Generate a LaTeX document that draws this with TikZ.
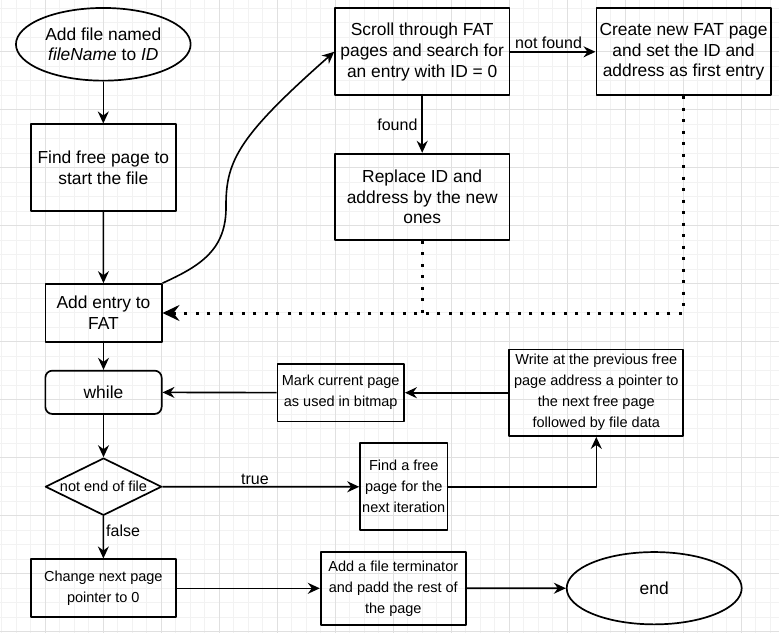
\documentclass[tikz,border=0pt]{standalone}
\usepackage{fontspec}
\setmainfont{Liberation Sans}
\usetikzlibrary{shapes.geometric,arrows.meta}

\begin{document}
\begin{tikzpicture}[x=1pt, y=-1pt, line join=round, >={Stealth[length=12pt,width=11pt,inset=4pt]}]
	\tikzset{box/.style={draw, line width=1.7pt, inner sep=0pt, align=center, font=\fontsize{17.4}{20.9}\selectfont},
		smallbox/.style={box, font=\fontsize{14.5}{21}\selectfont},
		edge label/.style={font=\fontsize{16}{19}\selectfont},
		flow/.style={->, line width=1.6pt},
		dots/.style={-{Stealth[length=17pt,width=16pt,inset=6pt]}, line width=3pt, dash pattern=on 3pt off 8.5pt}}
	%Page and background grid
	\useasboundingbox (0,0) rectangle (779,633);
	\fill[white] (0,0) rectangle (779,633);
	\foreach \i in {0,...,53} \draw[black!5, line width=1pt] (1.8+14.5*\i,0)--(1.8+14.5*\i,633);
	\foreach \i in {0,...,43} \draw[black!5, line width=1pt] (0,8.2+14.5*\i)--(779,8.2+14.5*\i);
	\foreach \i in {0,...,12} \draw[black!12, line width=1pt] (45.3+58*\i,0)--(45.3+58*\i,633);
	\foreach \i in {0,...,10} \draw[black!12, line width=1pt] (0,51.7+58*\i)--(779,51.7+58*\i);
	
	%Left column
	\node[box, ellipse, minimum width=174.7, minimum height=72.7] (start) at (103.3,44.3) {Add file named\\\textit{fileName} to \textit{ID}};
	\node[box, minimum width=145.3, minimum height=87] (findpage) at (103.3,167.8) {Find free page to\\start the file};
	\node[box, minimum width=116.3, minimum height=58] (addentry) at (103.5,313) {Add entry to\\FAT};
	\node[box, rounded corners=7pt, minimum width=116.3, minimum height=43.3] (whileloop) at (103.5,392.3) {while};
	\node[smallbox, diamond, aspect=2, minimum width=116.3, minimum height=57.3] (eof) at (103.5,486.7) {not end of file};
	\node[smallbox, minimum width=145.3, minimum height=58] (change) at (103.3,588.3) {Change next page\\pointer to 0};
	
	%FAT search
	\node[box, minimum width=174.3, minimum height=87] (scroll) at (422.2,51.8) {Scroll through FAT\\pages and search for\\an entry with ID = 0};
	\node[box, minimum width=174.3, minimum height=87] (create) at (683.5,51.8) {Create new FAT page\\and set the ID and\\address as first entry};
	\node[box, minimum width=174.3, minimum height=86.3] (replace) at (422.2,196.8) {Replace ID and\\address by the new\\ones};
	
	%Loop body
	\node[smallbox, minimum width=126.7, minimum height=57.3] (mark) at (340.7,392.7) {Mark current page\\as used in bitmap};
	\node[smallbox, minimum width=174, minimum height=86.7] (write) at (596.3,392.7) {Write at the previous free\\page address a pointer to\\the next free page\\followed by file data};
	\node[smallbox, minimum width=87.3, minimum height=87] (findnext) at (403.7,486.8) {Find a free\\page for the\\next iteration};
	\node[smallbox, minimum width=145.3, minimum height=72.7] (terminator) at (393.3,588.3) {Add a file terminator\\and padd the rest of\\the page};
	\node[box, ellipse, minimum width=175, minimum height=72.3] (stop) at (654.2,588.2) {end};
	
	%Connectors
	\draw[flow] (start) -- (findpage);
	\draw[flow] (findpage) -- (addentry);
	\draw[flow] (addentry) -- (whileloop);
	\draw[flow] (whileloop) -- (eof);
	\draw[flow] (eof) -- node[edge label, right, pos=0.35, inner sep=2pt] {false} (change);
	\draw[flow] (eof) -- node[edge label, above, pos=0.47, inner sep=1pt] {true} (findnext);
	\draw[flow] (findnext) -| (write);
	\draw[flow] (write) -- (mark);
	\draw[flow] (mark) -- (whileloop);
	\draw[flow] (change) -- (terminator);
	\draw[flow] (terminator) -- (stop);
	\draw[flow] (addentry.north east) .. controls (200,266) and (227,250) .. (226,205)
		.. controls (226,160) and (240,135) .. (scroll.west);
	\draw[flow] (scroll) -- node[edge label, above, pos=0.45, inner sep=2pt] {not found} (create);
	\draw[flow] (scroll) -- node[edge label, left, inner sep=4pt] {found} (replace);
	\draw[dots] (create.south) |- (addentry.east);
	\draw[dots, -] (replace.south) -- (replace.south |- addentry.east);
\end{tikzpicture}
\end{document}
